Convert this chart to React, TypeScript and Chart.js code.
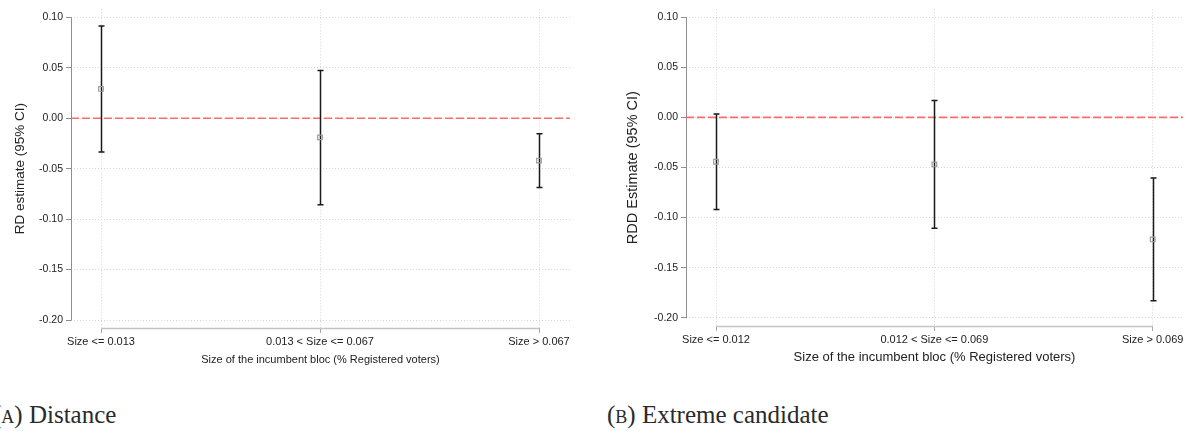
import React, { useEffect, useRef } from "react";
import { Chart, registerables } from "chart.js";

Chart.register(...registerables);

// ---- Data ----
const categoriesA = ["Size <= 0.013", "0.013 < Size <= 0.067", "Size > 0.067"];
const estimateA = [0.029, -0.019, -0.042];
const lowerA = [-0.0335, -0.0858, -0.0687];
const upperA = [0.0914, 0.0473, -0.0154];

const categoriesB = ["Size <= 0.012", "0.012 < Size <= 0.069", "Size > 0.069"];
const estimateB = [-0.0443, -0.0469, -0.1218];
const lowerB = [-0.092, -0.1106, -0.183];
const upperB = [0.0033, 0.0168, -0.0604];

const yTickValues = [0.1, 0.05, 0.0, -0.05, -0.1, -0.15, -0.2];
const xTitle = "Size of the incumbent bloc (% Registered voters)";

const FONT = "'Liberation Sans', Arial, Helvetica, sans-serif";

type PanelProps = {
  categories: string[];
  est: number[];
  lo: number[];
  hi: number[];
  yTitle: string;
  left: number;
  width: number;
  height: number;
  yAxisWidth: number;
  xAxisHeight: number;
  padTop: number;
  padRight: number;
  xMin: number;
  xMax: number;
  yMin: number;
  yMax: number;
  xTitleSize: number;
  xTitlePadBottom: number;
  yTitleSize: number;
  yTitlePadTop: number;
};

function Panel(p: PanelProps) {
  const ref = useRef<HTMLCanvasElement | null>(null);

  useEffect(() => {
    if (!ref.current) return;
    const decor = {
      id: "decor",
      beforeDatasetsDraw(chart: any) {
        const { ctx, chartArea, scales } = chart;
        const x = scales.x;
        const y = scales.y;
        ctx.save();
        // y axis line (from top tick to bottom tick)
        const ax = Math.floor(chartArea.left) + 0.5;
        ctx.strokeStyle = "#8f8f8f";
        ctx.lineWidth = 1;
        ctx.beginPath();
        ctx.moveTo(ax, y.getPixelForValue(yTickValues[0]));
        ctx.lineTo(ax, y.getPixelForValue(yTickValues[yTickValues.length - 1]) + 0.5);
        ctx.stroke();
        // x axis line (from first to last category)
        const by = Math.round(chartArea.bottom) + 0.5;
        ctx.strokeStyle = "#c4c4c4";
        ctx.lineWidth = 1.6;
        ctx.beginPath();
        ctx.moveTo(x.getPixelForValue(0), by);
        ctx.lineTo(x.getPixelForValue(p.categories.length - 1), by);
        ctx.stroke();
        // zero reference line
        const y0 = y.getPixelForValue(0);
        ctx.strokeStyle = "rgba(255, 85, 85, 0.85)";
        ctx.lineWidth = 1.6;
        ctx.setLineDash([8, 3]);
        ctx.beginPath();
        ctx.moveTo(chartArea.left, y0);
        ctx.lineTo(chartArea.right, y0);
        ctx.stroke();
        ctx.setLineDash([]);
        // error bars
        ctx.strokeStyle = "#1a1a1a";
        ctx.lineWidth = 1.5;
        for (let i = 0; i < p.est.length; i++) {
          const px = Math.round(x.getPixelForValue(i)) + 0.5;
          const yl = y.getPixelForValue(p.lo[i]);
          const yh = y.getPixelForValue(p.hi[i]);
          ctx.beginPath();
          ctx.moveTo(px, yh);
          ctx.lineTo(px, yl);
          ctx.moveTo(px - 3, yh);
          ctx.lineTo(px + 3, yh);
          ctx.moveTo(px - 3, yl);
          ctx.lineTo(px + 3, yl);
          ctx.stroke();
        }
        ctx.restore();
      },
    };

    const chart = new Chart(ref.current, {
      type: "scatter",
      data: {
        datasets: [
          {
            data: p.est.map((v, i) => ({ x: i, y: v })),
            pointStyle: "rect",
            pointRadius: 3.3,
            pointHoverRadius: 3.3,
            borderColor: "#9c9c9c",
            backgroundColor: "rgba(0,0,0,0)",
            borderWidth: 1.2,
            showLine: false,
          },
        ],
      },
      options: {
        animation: false,
        responsive: false,
        maintainAspectRatio: false,
        events: [],
        layout: { padding: { left: 0, right: p.padRight, top: p.padTop, bottom: 0 } },
        plugins: { legend: { display: false }, tooltip: { enabled: false } },
        scales: {
          x: {
            type: "linear",
            min: p.xMin,
            max: p.xMax,
            afterBuildTicks: (s: any) => {
              s.ticks = p.categories.map((_, i) => ({ value: i }));
            },
            afterFit: (s: any) => {
              s.height = p.xAxisHeight;
            },
            ticks: {
              autoSkip: false,
              maxRotation: 0,
              minRotation: 0,
              padding: 2,
              color: "#222",
              font: { family: FONT, size: 11 },
              callback: (v: any) => p.categories[Math.round(Number(v))] ?? "",
            },
            grid: {
              color: "#d6d6d6",
              lineWidth: 1,
              tickLength: 5,
              tickColor: "#a8a8a8",
              tickBorderDash: [],
              tickWidth: 1,
            },
            border: { display: false, dash: [1, 2] },
            title: {
              display: true,
              text: xTitle,
              color: "#222",
              font: { family: FONT, size: p.xTitleSize },
              padding: { top: 0, bottom: p.xTitlePadBottom },
            },
          },
          y: {
            type: "linear",
            min: p.yMin,
            max: p.yMax,
            afterBuildTicks: (s: any) => {
              s.ticks = yTickValues.map((v) => ({ value: v }));
            },
            afterFit: (s: any) => {
              s.width = p.yAxisWidth;
            },
            ticks: {
              padding: 3,
              color: "#222",
              font: { family: FONT, size: 10.5 },
              callback: (v: any) => Number(v).toFixed(2),
            },
            grid: {
              color: "#d6d6d6",
              lineWidth: 1,
              tickLength: 5,
              tickColor: "#8f8f8f",
              tickBorderDash: [],
              tickWidth: 1,
            },
            border: { display: false, dash: [1, 2] },
            title: {
              display: true,
              text: p.yTitle,
              color: "#222",
              font: { family: FONT, size: p.yTitleSize },
              padding: { top: p.yTitlePadTop, bottom: 0 },
            },
          },
        },
      },
      plugins: [decor],
    } as any);
    return () => chart.destroy();
  }, []);

  return (
    <canvas
      ref={ref}
      width={p.width}
      height={p.height}
      style={{ position: "absolute", left: p.left, top: 0, width: p.width, height: p.height }}
    />
  );
}

const captionStyle: React.CSSProperties = {
  position: "absolute",
  top: 402,
  font: "25px 'Liberation Serif', 'Times New Roman', serif",
  lineHeight: "25px",
  color: "#2a2a2a",
  whiteSpace: "nowrap",
};

export default function App() {
  return (
    <div
      style={{
        position: "absolute",
        left: 0,
        top: 0,
        width: 1189,
        height: 431,
        background: "#fff",
        overflow: "hidden",
      }}
    >
      <Panel
        categories={categoriesA}
        est={estimateA}
        lo={lowerA}
        hi={upperA}
        yTitle="RD estimate (95% CI)"
        left={0}
        width={590}
        height={380}
        yAxisWidth={71}
        xAxisHeight={52}
        padTop={7}
        padRight={20}
        xMin={-30 / 219}
        xMax={2 + 31 / 219}
        yMin={-0.20787}
        yMax={0.10787}
        xTitleSize={11}
        xTitlePadBottom={13}
        yTitleSize={13.5}
        yTitlePadTop={12}
      />
      <Panel
        categories={categoriesB}
        est={estimateB}
        lo={lowerB}
        hi={upperB}
        yTitle="RDD Estimate (95% CI)"
        left={600}
        width={589}
        height={380}
        yAxisWidth={86}
        xAxisHeight={54}
        padTop={7}
        padRight={6}
        xMin={-30 / 218.35}
        xMax={2 + 30.3 / 218.35}
        yMin={-0.2082}
        yMax={0.1079}
        xTitleSize={13}
        xTitlePadBottom={15}
        yTitleSize={14.5}
        yTitlePadTop={24.6}
      />
      <div style={{ ...captionStyle, left: -7 }}>
        <span style={{ fontVariant: "small-caps" }}>(a)</span> Distance
      </div>
      <div style={{ ...captionStyle, left: 607 }}>
        <span style={{ fontVariant: "small-caps" }}>(b)</span> Extreme candidate
      </div>
    </div>
  );
}
